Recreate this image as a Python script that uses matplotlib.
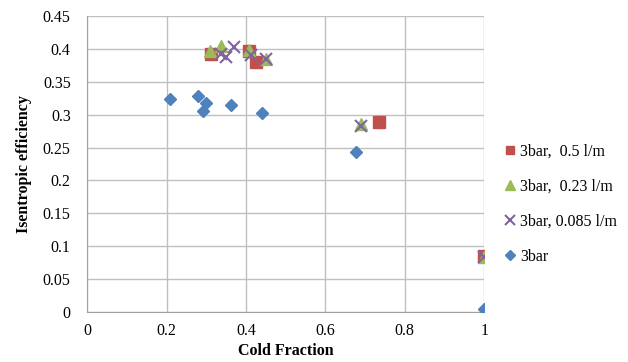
import matplotlib
matplotlib.use("Agg")
import matplotlib.pyplot as plt

# 3bar, 0.5 l/m
cf_05 = [0.311, 0.408, 0.425, 0.734, 1.0]
eff_05 = [0.392, 0.396, 0.380, 0.289, 0.085]

# 3bar, 0.23 l/m
cf_023 = [0.310, 0.337, 0.408, 0.450, 0.690, 1.0]
eff_023 = [0.396, 0.405, 0.398, 0.384, 0.286, 0.083]

# 3bar, 0.085 l/m
cf_0085 = [0.337, 0.350, 0.370, 0.412, 0.450, 0.690, 1.0]
eff_0085 = [0.392, 0.388, 0.403, 0.391, 0.384, 0.283, 0.083]

# 3bar
cf_3 = [0.209, 0.278, 0.300, 0.291, 0.361, 0.439, 0.677, 1.0]
eff_3 = [0.323, 0.328, 0.317, 0.306, 0.315, 0.302, 0.243, 0.004]

plt.rcParams['font.family'] = ['Liberation Serif', 'DejaVu Serif']

fig = plt.figure(figsize=(6.28, 3.62), dpi=100)
ax = fig.add_axes([0.139, 0.138, 0.632, 0.818])

ax.plot(cf_05, eff_05, ls='none', marker='s', ms=8, color='#C0504D',
        label='3bar,  0.5 l/m', zorder=3)
ax.plot(cf_023, eff_023, ls='none', marker='^', ms=9, color='#9BBB59',
        label='3bar,  0.23 l/m', zorder=4)
ax.plot(cf_0085, eff_0085, ls='none', marker='x', ms=9, mew=1.5, color='#8064A2',
        label='3bar, 0.085 l/m', zorder=5)
ax.plot(cf_3, eff_3, ls='none', marker='D', ms=6.5, color='#4F81BD',
        label='3bar', zorder=6)

ax.set_xlim(0, 1)
ax.set_ylim(0, 0.45)
ax.set_xticks([0, 0.2, 0.4, 0.6, 0.8, 1])
ax.set_xticklabels(['0', '0.2', '0.4', '0.6', '0.8', '1'])
ax.set_yticks([0, 0.05, 0.1, 0.15, 0.2, 0.25, 0.3, 0.35, 0.4, 0.45])
ax.set_yticklabels(['0', '0.05', '0.1', '0.15', '0.2', '0.25', '0.3', '0.35', '0.4', '0.45'])
ax.grid(True, color='#BFBFBF', lw=1)
ax.set_axisbelow(True)
for s in ['top', 'right']:
    ax.spines[s].set_visible(False)
for s in ['left', 'bottom']:
    ax.spines[s].set_color('#A0A0A0')
ax.tick_params(length=0, labelsize=11.5, pad=8)
ax.tick_params(axis='y', pad=12)

ax.set_xlabel('Cold Fraction', fontsize=11.5, fontweight='bold', labelpad=3)
ax.set_ylabel('Isentropic efficiency', fontsize=11.5, fontweight='bold', labelpad=8)

ax.legend(loc='center left', bbox_to_anchor=(1.03, 0.365), frameon=False,
          fontsize=11.5, handletextpad=0.1, labelspacing=1.2, handlelength=1.0,
          markerscale=0.75, borderaxespad=0)

fig.savefig('out.png', dpi=100)
